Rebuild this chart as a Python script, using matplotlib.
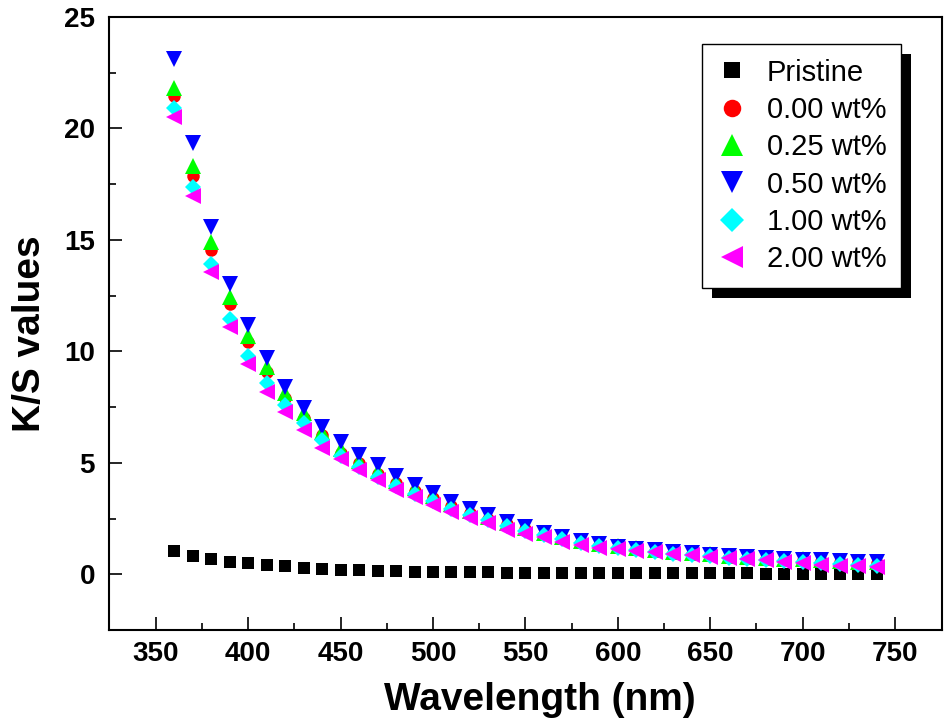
import matplotlib
matplotlib.use('Agg')
import matplotlib.pyplot as plt
from matplotlib.patches import Rectangle

plt.rcParams['font.family'] = ['Liberation Sans', 'DejaVu Sans']

wavelength = list(range(360, 750, 10))

pristine = [1.05, 0.83, 0.68, 0.57, 0.50, 0.43, 0.35, 0.30, 0.25, 0.21,
            0.18, 0.16, 0.14, 0.12, 0.11, 0.10, 0.09, 0.08, 0.07, 0.07,
            0.06, 0.06, 0.05, 0.05, 0.05, 0.05, 0.04, 0.04, 0.04, 0.04,
            0.04, 0.04, 0.03, 0.03, 0.03, 0.03, 0.03, 0.03, 0.03]
wt000 = [21.45, 17.88, 14.53, 12.11, 10.42, 9.08, 7.89, 6.99, 6.24, 5.45,
         4.97, 4.52, 4.10, 3.75, 3.40, 3.06, 2.75, 2.50, 2.24, 2.02,
         1.80, 1.63, 1.46, 1.33, 1.21, 1.12, 1.04, 0.97, 0.91, 0.85,
         0.79, 0.74, 0.70, 0.66, 0.63, 0.59, 0.56, 0.53, 0.50]
wt025 = [21.80, 18.30, 14.90, 12.44, 10.68, 9.30, 8.11, 7.22, 6.39, 5.60,
         5.10, 4.65, 4.20, 3.85, 3.50, 3.15, 2.82, 2.57, 2.30, 2.08,
         1.85, 1.68, 1.50, 1.37, 1.25, 1.16, 1.08, 1.01, 0.95, 0.89,
         0.83, 0.78, 0.74, 0.70, 0.67, 0.63, 0.60, 0.57, 0.54]
wt050 = [23.10, 19.35, 15.60, 13.00, 11.17, 9.68, 8.41, 7.44, 6.59, 5.95,
         5.37, 4.88, 4.42, 4.01, 3.63, 3.26, 2.92, 2.66, 2.36, 2.14,
         1.86, 1.69, 1.49, 1.37, 1.24, 1.15, 1.07, 1.00, 0.94, 0.88,
         0.82, 0.77, 0.73, 0.69, 0.66, 0.62, 0.59, 0.56, 0.53]
wt100 = [20.90, 17.36, 13.93, 11.47, 9.78, 8.56, 7.59, 6.77, 6.02, 5.30,
         4.82, 4.38, 3.95, 3.60, 3.27, 2.95, 2.65, 2.42, 2.15, 1.95,
         1.76, 1.56, 1.41, 1.27, 1.16, 1.07, 0.99, 0.92, 0.86, 0.80,
         0.74, 0.69, 0.65, 0.60, 0.56, 0.50, 0.46, 0.42, 0.39]
wt200 = [20.50, 16.96, 13.56, 11.09, 9.45, 8.18, 7.29, 6.45, 5.68, 5.17,
         4.68, 4.23, 3.78, 3.45, 3.11, 2.81, 2.51, 2.29, 1.99, 1.81,
         1.66, 1.47, 1.32, 1.20, 1.12, 1.05, 1.00, 0.93, 0.85, 0.79,
         0.72, 0.68, 0.65, 0.57, 0.50, 0.43, 0.38, 0.35, 0.32]

labels = ['Pristine', '0.00 wt%', '0.25 wt%', '0.50 wt%', '1.00 wt%', '2.00 wt%']
series = [pristine, wt000, wt025, wt050, wt100, wt200]

x_major = [350, 400, 450, 500, 550, 600, 650, 700, 750]
x_minor = [375, 425, 475, 525, 575, 625, 675, 725]
y_major = [0, 5, 10, 15, 20, 25]
y_minor = [2.5, 7.5, 12.5, 17.5, 22.5]

colors = ['#000000', '#FF0000', '#00FF00', '#0000FF', '#00FFFF', '#FF00FF']
markers = ['s', 'o', '^', 'v', 'D', '<']
sizes = [8, 9, 11.5, 11.5, 8.5, 11.5]

W, H = 945, 727
fig = plt.figure(figsize=(W / 100, H / 100), dpi=100)
ax = fig.add_axes([109 / W, 97 / H, (942 - 109) / W, (630 - 17) / H])

for y, lab, c, m, s in zip(series, labels, colors, markers, sizes):
    ax.plot(wavelength, y, ls='none', marker=m, ms=s, color=c, mec=c, mew=0,
            label=lab)

ax.set_xlim(324.7, 775.4)
ax.set_ylim(-2.5, 25)
ax.set_xticks(x_major)
ax.set_xticks(x_minor, minor=True)
ax.set_yticks(y_major)
ax.set_yticks(y_minor, minor=True)

for s in ax.spines.values():
    s.set_linewidth(1.5)
ax.tick_params(which='both', direction='in', top=False, right=False, width=1.2,
               labelsize=20)
ax.tick_params(which='major', length=9.5)
ax.tick_params(which='minor', length=5)
ax.tick_params(axis='x', pad=8)
ax.tick_params(axis='y', pad=10)
for t in ax.get_xticklabels() + ax.get_yticklabels():
    t.set_fontweight('bold')

ax.set_xlabel('Wavelength (nm)', fontsize=28, fontweight='bold')
ax.set_ylabel('K/S values', fontsize=28, fontweight='bold')
ax.xaxis.set_label_coords((540 - 109) / 833, (630 - 682) / 613)
ax.yaxis.set_label_coords((48 - 109) / 833, (630 - 334) / 613)

leg = ax.legend(loc='upper right', bbox_to_anchor=(901 / W, 1 - 44 / H),
                bbox_transform=fig.transFigure, borderaxespad=0,
                fontsize=21, frameon=True, fancybox=False, shadow=False,
                framealpha=1.0, markerscale=1.4, handlelength=1.0,
                handletextpad=0.7, labelspacing=0.32, borderpad=0.5)
leg.get_frame().set_edgecolor('black')
leg.get_frame().set_facecolor('white')
leg.get_frame().set_linewidth(1.0)
leg.set_zorder(10)

fig.canvas.draw()
bb = leg.get_window_extent()
shadow = Rectangle((bb.x0 + 10, bb.y0 - 10), bb.width, bb.height,
                   transform=None, facecolor='black', edgecolor='none',
                   zorder=9, clip_on=False)
ax.add_artist(shadow)

fig.savefig('out.png', dpi=100)
